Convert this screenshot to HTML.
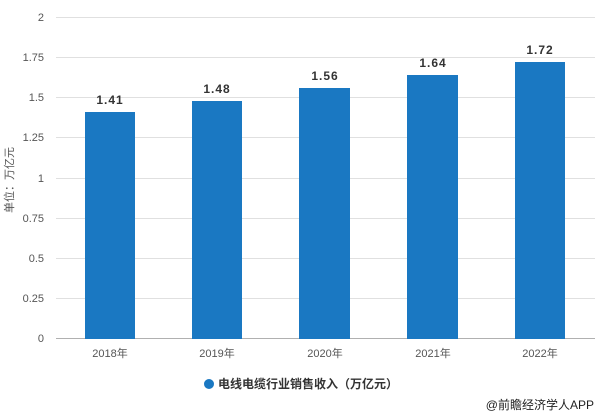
<!DOCTYPE html>
<html><head><meta charset="utf-8"><style>
body{margin:0;background:#fff;}
text{font-family:"Liberation Sans","Noto Sans CJK SC",sans-serif;}
</style></head><body>
<svg width="600" height="415" xmlns="http://www.w3.org/2000/svg">
<g stroke="#e0e0e0" stroke-width="1">
<line x1="56" x2="595" y1="17.5" y2="17.5"/>
<line x1="56" x2="595" y1="57.5" y2="57.5"/>
<line x1="56" x2="595" y1="97.5" y2="97.5"/>
<line x1="56" x2="595" y1="137.5" y2="137.5"/>
<line x1="56" x2="595" y1="178.5" y2="178.5"/>
<line x1="56" x2="595" y1="218.5" y2="218.5"/>
<line x1="56" x2="595" y1="258.5" y2="258.5"/>
<line x1="56" x2="595" y1="298.5" y2="298.5"/>
</g>
<line x1="56" x2="595" y1="338.5" y2="338.5" stroke="#b0b0b0"/>
<g font-size="11" fill="#555" text-anchor="end">
<text x="44" y="21">2</text><text x="44" y="61">1.75</text><text x="44" y="101">1.5</text>
<text x="44" y="141">1.25</text><text x="44" y="182">1</text><text x="44" y="222">0.75</text>
<text x="44" y="262">0.5</text><text x="44" y="302">0.25</text><text x="44" y="342">0</text>
</g>
<text transform="translate(13,180) rotate(-90)" font-size="11" fill="#555" text-anchor="middle">单位：万亿元</text>
<g fill="#1a78c2">
<rect x="85" y="112" width="50" height="227"/>
<rect x="192" y="101" width="50" height="238"/>
<rect x="299" y="88" width="51" height="251"/>
<rect x="407" y="75" width="51" height="264"/>
<rect x="515" y="62" width="50" height="277"/>
</g>
<g font-size="12" font-weight="bold" fill="#333" text-anchor="middle" letter-spacing="1">
<text x="110" y="104">1.41</text><text x="217" y="93">1.48</text><text x="325" y="80">1.56</text>
<text x="433" y="67">1.64</text><text x="540" y="54">1.72</text>
</g>
<g font-size="11" fill="#555" text-anchor="middle">
<text x="110" y="357">2018年</text><text x="217" y="357">2019年</text><text x="325" y="357">2020年</text>
<text x="433" y="357">2021年</text><text x="540" y="357">2022年</text>
</g>
<circle cx="209" cy="384" r="5" fill="#1a78c2"/>
<text x="218" y="388" font-size="12" font-weight="bold" fill="#333">电线电缆行业销售收入（万亿元）</text>
<text x="594" y="409" font-size="12" fill="#222" text-anchor="end">@前瞻经济学人APP</text>
</svg>
</body></html>
